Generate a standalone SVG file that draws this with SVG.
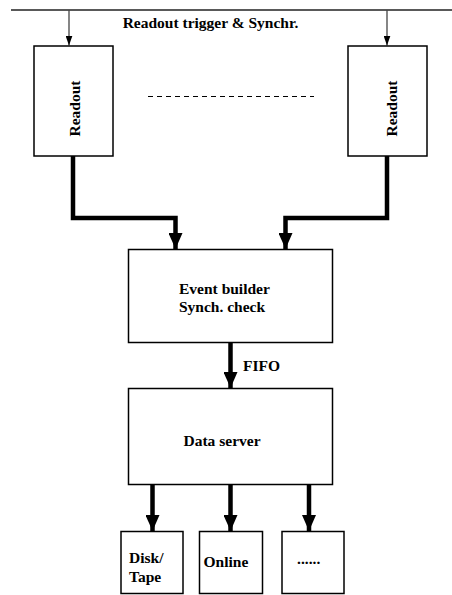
<svg xmlns="http://www.w3.org/2000/svg" width="452" height="595" viewBox="0 0 452 595">
<style>
.box{fill:#fff;stroke:#000;stroke-width:1.5}
.t{font-family:"Liberation Serif","Times New Roman",serif;font-weight:bold;font-size:15.5px;fill:#000}
.thin{stroke:#444;stroke-width:1.3;fill:none}
.thick{stroke:#000;stroke-width:4.5;fill:none}
</style>
<defs>
<marker id="ahs" markerWidth="10" markerHeight="7" refX="10" refY="3.5" orient="auto" markerUnits="userSpaceOnUse" viewBox="0 0 10 7">
<path d="M0,0 L10,3.5 L0,7 Z" fill="#000"/>
</marker>
<marker id="ahb" markerWidth="16" markerHeight="14" refX="16" refY="7" orient="auto" markerUnits="userSpaceOnUse" viewBox="0 0 16 14">
<path d="M0,0 L16,7 L0,14 Z" fill="#000"/>
</marker>
</defs>
<g id="bus">
<line x1="11" y1="10" x2="452" y2="10" stroke="#222" stroke-width="1.3"/>
<text class="t" x="210.5" y="27.5" text-anchor="middle">Readout trigger &amp; Synchr.</text>
</g>
<g id="connectors">
<line class="thin" x1="69" y1="10" x2="69" y2="45.5" marker-end="url(#ahs)"/>
<line class="thin" x1="387" y1="10" x2="387" y2="45.5" marker-end="url(#ahs)"/>
<line x1="148" y1="96.5" x2="314" y2="96.5" stroke="#000" stroke-width="1" stroke-dasharray="5,4"/>
<path class="thick" d="M73,156 V218 H175.5 V249" marker-end="url(#ahb)"/>
<path class="thick" d="M387,156 V218 H285.5 V249" marker-end="url(#ahb)"/>
<path class="thick" d="M230.5,343 V388" marker-end="url(#ahb)"/>
<path class="thick" d="M152.5,484 V531" marker-end="url(#ahb)"/>
<path class="thick" d="M230.5,484 V531" marker-end="url(#ahb)"/>
<path class="thick" d="M309,484 V531" marker-end="url(#ahb)"/>
<text class="t" x="243" y="371">FIFO</text>
</g>
<g id="readout-left">
<rect class="box" x="34" y="46" width="79" height="110"/>
<text class="t" transform="translate(80,108.5) rotate(-90)" text-anchor="middle">Readout</text>
</g>
<g id="readout-right">
<rect class="box" x="348" y="46" width="79" height="110"/>
<text class="t" transform="translate(396.5,108.5) rotate(-90)" text-anchor="middle">Readout</text>
</g>
<g id="event-builder">
<rect class="box" x="128.5" y="249.5" width="204" height="93"/>
<text class="t" x="179" y="294">Event builder</text>
<text class="t" x="179" y="312">Synch. check</text>
</g>
<g id="data-server">
<rect class="box" x="128.5" y="388.5" width="204" height="96"/>
<text class="t" x="222" y="446" text-anchor="middle">Data server</text>
</g>
<g id="disk-tape">
<rect class="box" x="121" y="531.5" width="62" height="62"/>
<text class="t" x="129" y="563">Disk/</text>
<text class="t" x="129" y="582">Tape</text>
</g>
<g id="online">
<rect class="box" x="199.5" y="531.5" width="63" height="62"/>
<text class="t" x="203.5" y="566.5">Online</text>
</g>
<g id="more">
<rect class="box" x="282" y="531.5" width="62" height="62"/>
<text class="t" x="297" y="564">......</text>
</g>
</svg>
